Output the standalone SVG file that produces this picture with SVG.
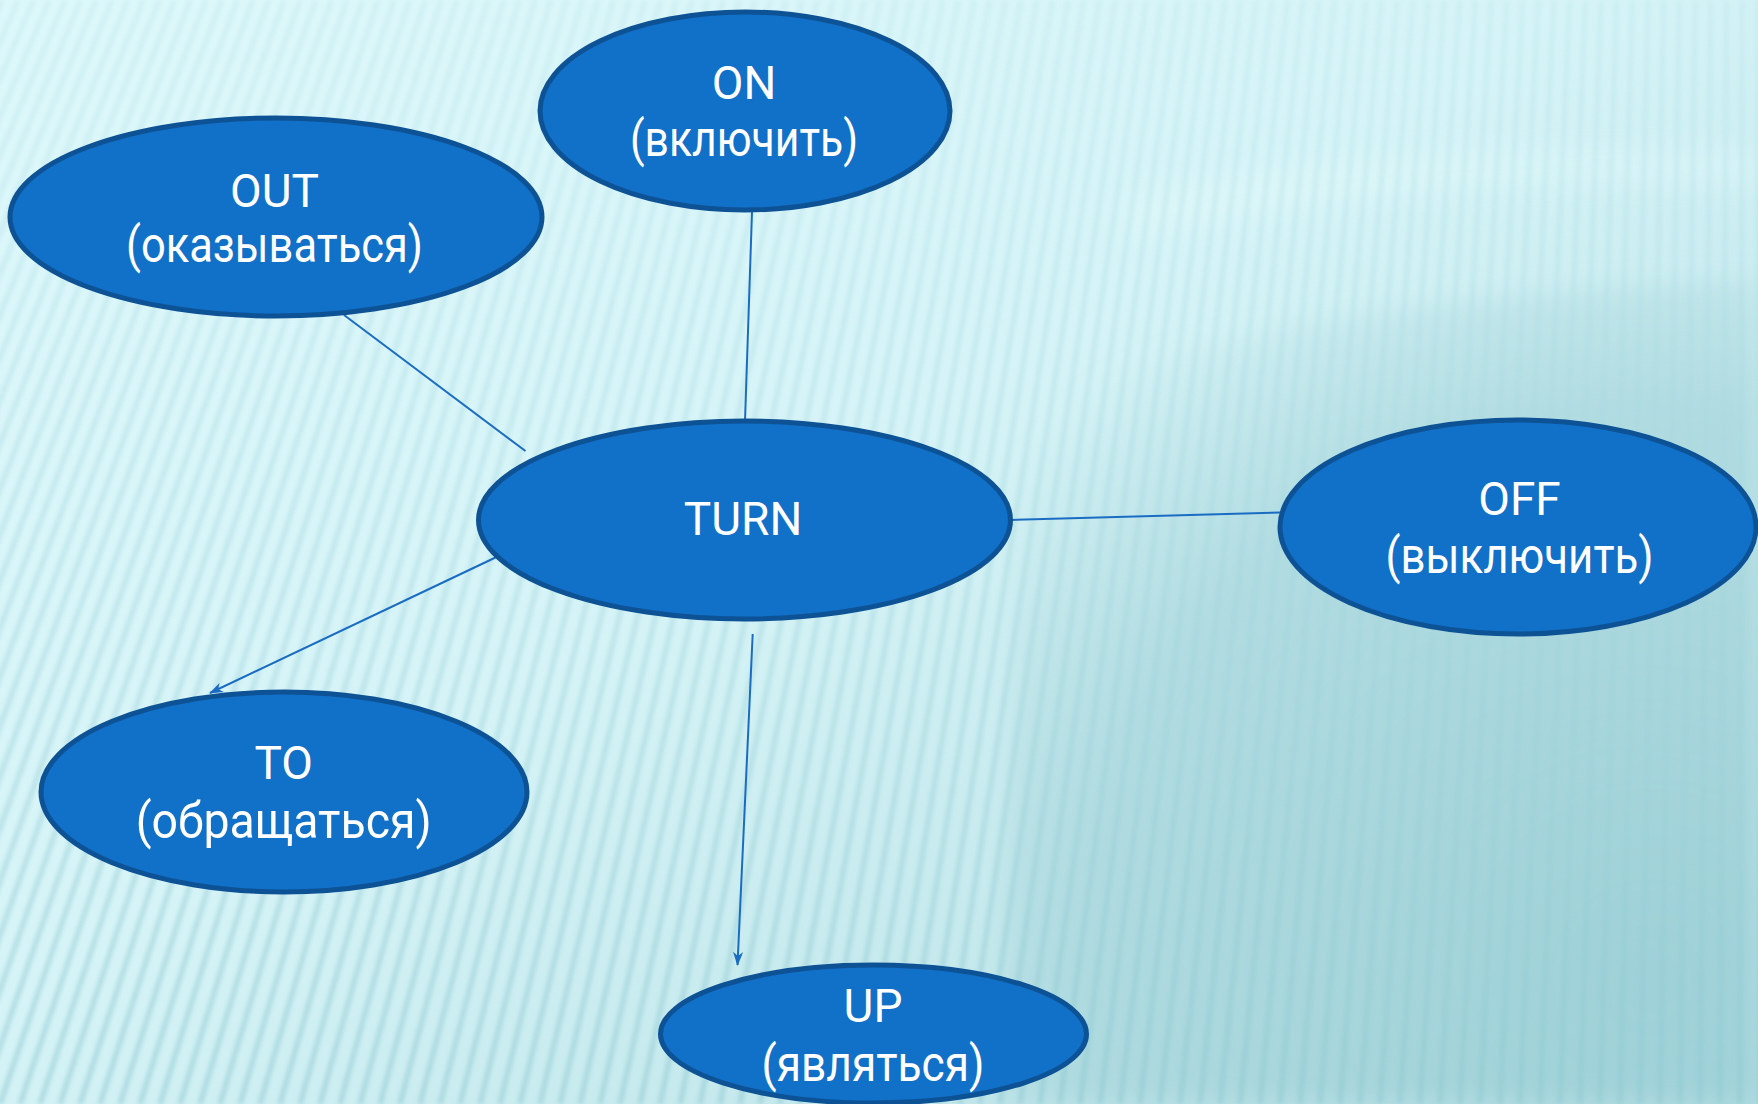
<svg xmlns="http://www.w3.org/2000/svg" width="1758" height="1104" viewBox="0 0 1758 1104">
<defs>
<linearGradient id="bg" x1="0" y1="0" x2="1" y2="1">
<stop offset="0" stop-color="#DDF8FB"/>
<stop offset="0.45" stop-color="#D6F4F7"/>
<stop offset="1" stop-color="#B2DDE2"/>
</linearGradient>
<linearGradient id="stripeGrad" gradientUnits="userSpaceOnUse" x1="0" y1="0" x2="0" y2="1104">
<stop offset="0" stop-color="#B9E3E9" stop-opacity="0.35"/>
<stop offset="1" stop-color="#8FC9D1" stop-opacity="0.6"/>
</linearGradient>
<radialGradient id="shade" cx="1650" cy="980" r="820" gradientUnits="userSpaceOnUse">
<stop offset="0" stop-color="#9CCFD6" stop-opacity="0.9"/>
<stop offset="0.7" stop-color="#A6D5DB" stop-opacity="0.7"/>
<stop offset="1" stop-color="#B0DBE0" stop-opacity="0"/>
</radialGradient>
<filter id="blur" x="-10%" y="-10%" width="120%" height="120%"><feGaussianBlur stdDeviation="2"/></filter>
<filter id="blurBig" x="-20%" y="-20%" width="140%" height="140%"><feGaussianBlur stdDeviation="12"/></filter>
<marker id="arrow" markerUnits="userSpaceOnUse" markerWidth="14" markerHeight="10" refX="13" refY="5" orient="auto">
<path d="M0,0 L14,5 L0,10 L4,5 z" fill="#1A6CC3"/>
</marker>
</defs>
<style>
.node ellipse { fill: #1170C7; stroke: #0E5296; stroke-width: 5; }
.node text { fill: #FFFFFF; font-family: Roboto, "Liberation Sans", sans-serif; text-anchor: middle; }
.t1 { font-size: 46px; }
.t2 { font-size: 50px; }
.conn { stroke: #1A6CC3; stroke-width: 2; fill: none; }
</style>
<rect x="0" y="0" width="1758" height="1104" fill="url(#bg)"/>
<path d="M1020 420 Q1200 300 1758 280 L1758 1104 L1000 1104 Z" fill="url(#shade)" filter="url(#blurBig)"/>
<path d="M1120 200 Q1400 130 1758 150 L1758 190 Q1400 175 1130 240 Z" fill="#E4FAFC" opacity="0.35" filter="url(#blurBig)"/>
<path filter="url(#blur)" stroke="url(#stripeGrad)" stroke-width="5" fill="none" d="M2.3 0L-480 1104M18 0L-460 1104M33.6 0L-440 1104M49.3 0L-420 1104M65 0L-400 1104M80.7 0L-380 1104M96.3 0L-360 1104M112 0L-340 1104M127.7 0L-320 1104M143.4 0L-300 1104M159 0L-280 1104M174.7 0L-260 1104M190.4 0L-240 1104M206.1 0L-220 1104M221.7 0L-200 1104M237.4 0L-180 1104M253.1 0L-160 1104M268.8 0L-140 1104M284.4 0L-120 1104M300.1 0L-100 1104M315.8 0L-80 1104M331.5 0L-60 1104M347.1 0L-40 1104M362.8 0L-20 1104M378.5 0L0 1104M394.2 0L20 1104M409.8 0L40 1104M425.5 0L60 1104M441.2 0L80 1104M456.9 0L100 1104M472.5 0L120 1104M488.2 0L140 1104M503.9 0L160 1104M519.5 0L180 1104M535.2 0L200 1104M550.9 0L220 1104M566.6 0L240 1104M582.2 0L260 1104M597.9 0L280 1104M613.6 0L300 1104M629.3 0L320 1104M644.9 0L340 1104M660.6 0L360 1104M676.3 0L380 1104M692 0L400 1104M707.6 0L420 1104M723.3 0L440 1104M739 0L460 1104M754.7 0L480 1104M770.3 0L500 1104M786 0L520 1104M801.7 0L540 1104M817.4 0L560 1104M833 0L580 1104M848.7 0L600 1104M864.4 0L620 1104M880 0L640 1104M895.7 0L660 1104M911.4 0L680 1104M927.1 0L700 1104M942.7 0L720 1104M958.4 0L740 1104M974.1 0L760 1104M989.8 0L780 1104M1005.4 0L800 1104M1021.1 0L820 1104M1036.8 0L840 1104M1052.5 0L860 1104M1068.1 0L880 1104M1083.8 0L900 1104M1099.5 0L920 1104M1115.2 0L940 1104M1130.8 0L960 1104M1146.5 0L980 1104M1162.2 0L1000 1104M1177.9 0L1020 1104M1193.5 0L1040 1104M1209.2 0L1060 1104M1224.9 0L1080 1104M1240.6 0L1100 1104M1256.2 0L1120 1104M1271.9 0L1140 1104M1287.6 0L1160 1104M1303.2 0L1180 1104M1318.9 0L1200 1104M1334.6 0L1220 1104M1350.3 0L1240 1104M1365.9 0L1260 1104M1381.6 0L1280 1104M1397.3 0L1300 1104M1413 0L1320 1104M1428.6 0L1340 1104M1444.3 0L1360 1104M1460 0L1380 1104M1475.7 0L1400 1104M1491.3 0L1420 1104M1507 0L1440 1104M1522.7 0L1460 1104M1538.4 0L1480 1104M1554 0L1500 1104M1569.7 0L1520 1104M1585.4 0L1540 1104M1601.1 0L1560 1104M1616.7 0L1580 1104M1632.4 0L1600 1104M1648.1 0L1620 1104M1663.7 0L1640 1104M1679.4 0L1660 1104M1695.1 0L1680 1104M1710.8 0L1700 1104M1726.4 0L1720 1104M1742.1 0L1740 1104M1757.8 0L1760 1104"/>
<g id="connectors">
<line class="conn" x1="344" y1="315" x2="525.5" y2="451"/>
<line class="conn" x1="752" y1="212" x2="745" y2="421"/>
<line class="conn" x1="1010.5" y1="520" x2="1280" y2="512.5"/>
<line class="conn" x1="495.5" y1="557.5" x2="210" y2="693" marker-end="url(#arrow)"/>
<line class="conn" x1="752.7" y1="634" x2="737.5" y2="965" marker-end="url(#arrow)"/>
</g>
<g id="node-on" class="node">
<ellipse cx="745" cy="111" rx="205" ry="99"/>
<text class="t1" x="744" y="99">ON</text>
<text class="t2" x="744" y="156" textLength="228" lengthAdjust="spacingAndGlyphs">(включить)</text>
</g>
<g id="node-out" class="node">
<ellipse cx="276" cy="217" rx="266" ry="99"/>
<text class="t1" x="274.5" y="207">OUT</text>
<text class="t2" x="274.5" y="262" textLength="297" lengthAdjust="spacingAndGlyphs">(оказываться)</text>
</g>
<g id="node-turn" class="node">
<ellipse cx="744.5" cy="520" rx="266" ry="99"/>
<text class="t1" x="743" y="535">TURN</text>
</g>
<g id="node-off" class="node">
<ellipse cx="1518" cy="527" rx="238" ry="107"/>
<text class="t1" x="1519.5" y="515">OFF</text>
<text class="t2" x="1519.5" y="573" textLength="268" lengthAdjust="spacingAndGlyphs">(выключить)</text>
</g>
<g id="node-to" class="node">
<ellipse cx="284" cy="792" rx="243" ry="100"/>
<text class="t1" x="283.7" y="779">TO</text>
<text class="t2" x="283.7" y="838" textLength="296" lengthAdjust="spacingAndGlyphs">(обращаться)</text>
</g>
<g id="node-up" class="node">
<ellipse cx="873.5" cy="1034" rx="213" ry="69"/>
<text class="t1" x="873" y="1022">UP</text>
<text class="t2" x="873" y="1081" textLength="223" lengthAdjust="spacingAndGlyphs">(являться)</text>
</g>
</svg>
